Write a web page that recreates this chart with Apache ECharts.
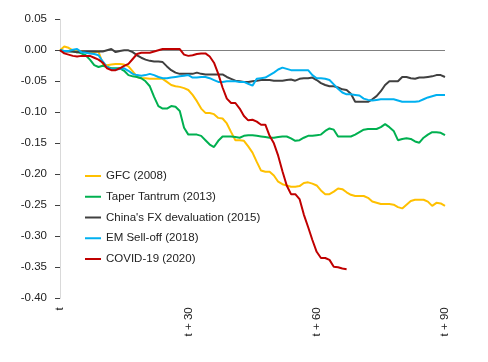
<!DOCTYPE html>
<html>
<head>
<meta charset="utf-8">
<script src="https://cdn.jsdelivr.net/npm/echarts@6/dist/echarts.min.js"></script>
<style>
html,body{margin:0;padding:0;background:#ffffff;}
#chart{width:488px;height:362px;}
</style>
</head>
<body>
<div id="chart"></div>
<script>
// Day offsets from event day t (0..90)
var days = [];
for (var i = 0; i <= 90; i++) days.push(i);

var tickPositions = [0, 30, 60, 90];
var tickLabels = ['t', 't + 30', 't + 60', 't + 90'];

var seriesNames = ['GFC (2008)', 'Taper Tantrum (2013)', "China's FX devaluation (2015)", 'EM Sell-off (2018)', 'COVID-19 (2020)'];

var gfc = [0,0.006,0.004,0.000,-0.002,-0.002,-0.003,-0.003,-0.003,-0.002,
-0.022,-0.024,-0.023,-0.022,-0.022,-0.023,-0.026,-0.034,-0.043,-0.045,
-0.045,-0.046,-0.046,-0.046,-0.046,-0.051,-0.056,-0.058,-0.059,-0.061,
-0.064,-0.072,-0.082,-0.094,-0.101,-0.101,-0.103,-0.109,-0.110,-0.118,
-0.132,-0.145,-0.145,-0.146,-0.155,-0.165,-0.180,-0.194,-0.196,-0.196,
-0.202,-0.212,-0.216,-0.218,-0.220,-0.220,-0.219,-0.214,-0.213,-0.215,
-0.218,-0.226,-0.232,-0.232,-0.228,-0.223,-0.224,-0.229,-0.233,-0.235,
-0.235,-0.235,-0.238,-0.244,-0.246,-0.248,-0.248,-0.248,-0.249,-0.253,
-0.255,-0.249,-0.243,-0.241,-0.241,-0.241,-0.244,-0.251,-0.246,-0.247,-0.251];

var taper = [0,-0.001,-0.001,-0.002,-0.003,-0.005,-0.008,-0.015,-0.024,-0.027,
-0.025,-0.027,-0.029,-0.029,-0.029,-0.033,-0.040,-0.042,-0.043,-0.045,
-0.050,-0.058,-0.075,-0.090,-0.094,-0.094,-0.090,-0.091,-0.098,-0.125,
-0.136,-0.136,-0.136,-0.138,-0.145,-0.152,-0.156,-0.146,-0.139,-0.139,
-0.139,-0.140,-0.141,-0.138,-0.137,-0.137,-0.138,-0.139,-0.140,-0.141,
-0.141,-0.140,-0.139,-0.139,-0.142,-0.146,-0.145,-0.141,-0.138,-0.138,
-0.137,-0.136,-0.130,-0.126,-0.128,-0.139,-0.139,-0.139,-0.139,-0.136,
-0.132,-0.128,-0.127,-0.127,-0.127,-0.124,-0.119,-0.124,-0.130,-0.145,
-0.143,-0.142,-0.143,-0.147,-0.149,-0.141,-0.136,-0.132,-0.132,-0.133,-0.137];

var china = [0,-0.002,-0.002,-0.002,-0.003,-0.002,-0.002,-0.002,-0.002,-0.002,
-0.002,0.000,0.002,-0.003,-0.001,0.000,0.000,-0.003,-0.008,-0.012,
-0.015,-0.017,-0.018,-0.018,-0.019,-0.026,-0.032,-0.036,-0.038,-0.038,
-0.038,-0.038,-0.036,-0.038,-0.039,-0.039,-0.039,-0.039,-0.039,-0.043,
-0.046,-0.049,-0.050,-0.051,-0.051,-0.050,-0.049,-0.048,-0.048,-0.048,
-0.049,-0.049,-0.049,-0.048,-0.047,-0.049,-0.046,-0.045,-0.045,-0.044,
-0.048,-0.053,-0.056,-0.058,-0.058,-0.060,-0.063,-0.064,-0.070,-0.083,
-0.083,-0.083,-0.083,-0.079,-0.074,-0.066,-0.056,-0.050,-0.050,-0.050,
-0.043,-0.043,-0.045,-0.046,-0.044,-0.044,-0.043,-0.042,-0.040,-0.040,-0.043];

var emSelloff = [0,-0.001,-0.001,0.001,0.002,-0.003,-0.004,-0.005,-0.006,-0.008,
-0.018,-0.027,-0.030,-0.031,-0.030,-0.029,-0.033,-0.038,-0.040,-0.041,
-0.040,-0.038,-0.040,-0.043,-0.045,-0.045,-0.044,-0.043,-0.042,-0.041,
-0.040,-0.044,-0.044,-0.043,-0.043,-0.045,-0.048,-0.051,-0.051,-0.050,
-0.050,-0.050,-0.051,-0.051,-0.054,-0.057,-0.046,-0.045,-0.044,-0.040,
-0.036,-0.031,-0.028,-0.030,-0.032,-0.032,-0.032,-0.032,-0.032,-0.040,
-0.045,-0.045,-0.046,-0.048,-0.055,-0.062,-0.068,-0.071,-0.071,-0.072,
-0.073,-0.078,-0.080,-0.081,-0.080,-0.079,-0.079,-0.079,-0.079,-0.081,
-0.083,-0.083,-0.083,-0.083,-0.082,-0.079,-0.076,-0.074,-0.072,-0.072,-0.072];

var covid = [0,-0.005,-0.007,-0.009,-0.010,-0.009,-0.009,-0.009,-0.012,-0.015,
-0.020,-0.029,-0.032,-0.032,-0.029,-0.025,-0.022,-0.014,-0.006,-0.004,
-0.004,-0.004,-0.002,0.000,0.002,0.002,0.002,0.002,0.002,-0.007,
-0.009,-0.008,-0.006,-0.005,-0.005,-0.010,-0.020,-0.038,-0.060,-0.078,
-0.085,-0.085,-0.094,-0.106,-0.113,-0.112,-0.115,-0.120,-0.120,-0.138,
-0.150,-0.170,-0.195,-0.218,-0.232,-0.232,-0.240,-0.265,-0.285,-0.306,
-0.325,-0.335,-0.335,-0.338,-0.349,-0.350,-0.352,-0.353];

var colors = ['#FFC000', '#00B050', '#404040', '#00B0F0', '#C00000'];
var allData = [gfc, taper, china, emSelloff, covid];

var FONT = '"Liberation Sans", Arial, sans-serif';

var series = allData.map(function (d, k) {
  var s = {
    name: seriesNames[k],
    type: 'line',
    data: d,
    showSymbol: false,
    symbol: 'none',
    smooth: false,
    lineStyle: { width: 2, color: colors[k] },
    itemStyle: { color: colors[k] },
    z: 3 + k
  };
  if (k === 0) {
    s.markLine = {
      silent: true,
      symbol: 'none',
      label: { show: false },
      lineStyle: { color: '#808080', width: 1, type: 'solid' },
      data: [{ yAxis: 0 }],
      z: 2
    };
  }
  return s;
});

var chart = echarts.init(document.getElementById('chart'), null, { renderer: 'canvas' });
chart.setOption({
  backgroundColor: '#ffffff',
  animation: false,
  grid: { left: 60, right: 43, top: 19.3, bottom: 63.7, containLabel: false },
  legend: {
    orient: 'vertical',
    left: 85,
    top: 169,
    padding: 0,
    itemGap: 6.75,
    itemWidth: 16,
    itemHeight: 2,
    icon: 'rect',
    data: seriesNames,
    textStyle: { fontFamily: FONT, fontSize: 11.5, color: '#222', lineHeight: 14 }
  },
  xAxis: {
    type: 'category',
    data: days,
    boundaryGap: false,
    axisLine: { show: false },
    axisTick: { show: false },
    splitLine: { show: false },
    axisLabel: {
      rotate: 90,
      margin: 9,
      fontFamily: FONT,
      fontSize: 11.5,
      color: '#222',
      interval: function (idx) { return tickPositions.indexOf(idx) >= 0; },
      formatter: function (v, idx) {
        var p = tickPositions.indexOf(idx);
        return p >= 0 ? tickLabels[p] : '';
      }
    }
  },
  yAxis: {
    type: 'value',
    min: -0.40,
    max: 0.05,
    interval: 0.05,
    axisLine: { show: true, lineStyle: { color: '#d9d9d9', width: 1 } },
    axisTick: { show: true, inside: false, length: 5, lineStyle: { color: '#404040' } },
    splitLine: { show: false },
    axisLabel: {
      margin: 13,
      fontFamily: FONT,
      fontSize: 11.5,
      color: '#222',
      formatter: function (v) { return v.toFixed(2); }
    }
  },
  series: series
});
</script>
</body>
</html>
